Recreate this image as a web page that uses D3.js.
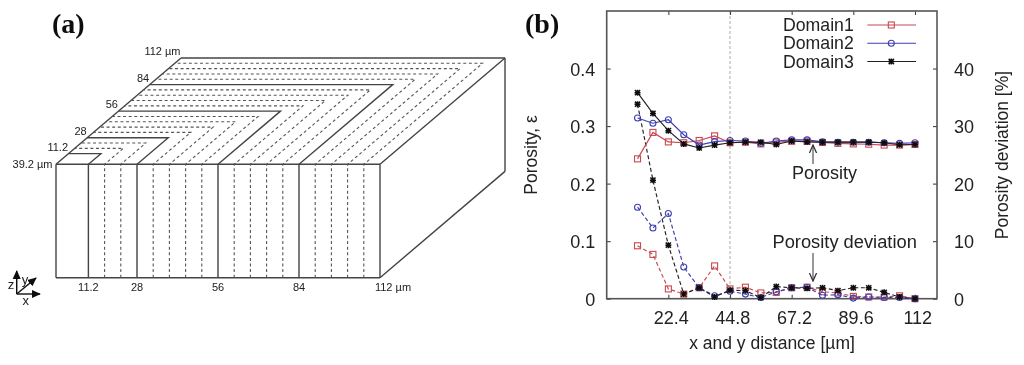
<!DOCTYPE html>
<html><head><meta charset="utf-8">
<script src="https://cdn.jsdelivr.net/npm/d3@7/dist/d3.min.js"></script>
<style>
html,body{margin:0;padding:0;background:#fff}
svg{display:block}
text{font-family:"Liberation Sans",Arial,sans-serif;fill:#222}
</style></head><body>
<svg id="c" width="1024" height="365"></svg>
<script>
// Panel (b) data
const distance = [11.2,16.8,22.4,28,33.6,39.2,44.8,50.4,56,61.6,67.2,72.8,78.4,84,89.6,95.2,100.8,106.4,112];
const porosity1 = [.243,.289,.2725,.271,.275,.283,.271,.272,.269,.272,.2735,.2735,.2715,.270,.269,.2685,.267,.267,.268];
const porosity2 = [.314,.305,.311,.285,.267,.273,.275,.274,.270,.274,.276,.276,.2725,.272,.272,.272,.271,.270,.271];
const porosity3 = [.358,.322,.292,.269,.262,.267,.271,.272,.272,.268,.274,.2725,.272,.272,.272,.272,.271,.2675,.268];
const deviation1 = [9.2,7.7,1.7,.8,1.9,5.7,1.7,2.0,1.0,1.1,1.9,2.0,1.2,1.0,.4,.3,.3,.5,0];
const deviation2 = [15.9,12.3,14.8,5.5,1.9,.5,1.3,.8,.2,1.2,1.9,2.0,.6,.7,.1,.3,.2,.2,0];
const deviation3 = [33.8,20.6,9.3,.8,1.9,.3,1.5,1.4,.2,2.1,1.9,1.8,1.9,1.4,1.9,1.9,1.1,.3,0];
const xTicks = [22.4,44.8,67.2,89.6,112];
const yTicks = [0,.1,.2,.3,.4];
const devTicks = [0,10,20,30,40];
const domainNames = ["Domain1","Domain2","Domain3"];
const domainColors = ["#c8494f","#3f3fb2","#222222"];
// Panel (a) data
const solidCuts = [11.2,28,56,84];
const dashedCuts = [16.8,22.4,33.6,39.2,44.8,50.4,61.6,67.2,72.8,78.4,89.6,95.2,100.8,106.4];
const frontLabels = ["11.2","28","56","84","112 µm"];
const frontLabelValues = [11.2,28,56,84,112];
const sideLabels = ["11.2","28","56","84","112 µm"];

const svg = d3.select("#c");
const defs = svg.append("defs");
defs.append("filter").attr("id","soft").attr("x","-5%").attr("y","-5%").attr("width","110%").attr("height","110%")
  .append("feGaussianBlur").attr("stdDeviation",0.45);
const arrow = defs.append("marker").attr("id","arr").attr("viewBox","0 0 10 10").attr("refX",9).attr("refY",5)
  .attr("markerWidth",9).attr("markerHeight",9).attr("markerUnits","userSpaceOnUse").attr("orient","auto");
arrow.append("path").attr("d","M0,1 L9,5 L0,9").attr("fill","none").attr("stroke","#333").attr("stroke-width",1.4);
const arrowK = defs.append("marker").attr("id","arrK").attr("viewBox","0 0 10 10").attr("refX",9).attr("refY",5)
  .attr("markerWidth",9).attr("markerHeight",9).attr("markerUnits","userSpaceOnUse").attr("orient","auto");
arrowK.append("path").attr("d","M0,0.5 L10,5 L0,9.5 Z").attr("fill","#111");

const root = svg.append("g").attr("filter","url(#soft)");

/* ---------- panel (a) ---------- */
const A = root.append("g");
const fx = d3.scaleLinear().domain([0,112]).range([56,380]);
const depthX = d3.scaleLinear().domain([0,112]).range([0,125]);
const depthY = d3.scaleLinear().domain([0,112]).range([164.3,58]);
const frontBottom = 277.7;
const P = (x,d)=>[fx(x)+depthX(d),depthY(d)];
const ln = d3.line();
const boxOutline = [[P(0,0),P(112,0)],[P(0,0),P(0,112)],[P(0,112),P(112,112)],
  [[fx(0),frontBottom],[fx(112),frontBottom]],[[fx(0),164.3],[fx(0),frontBottom]],[[fx(112),164.3],[fx(112),frontBottom]],
  [P(112,0),P(112,112)],[P(112,112),[P(112,112)[0],frontBottom-106.3]],[[fx(112),frontBottom],[P(112,112)[0],frontBottom-106.3]]];
A.append("g").selectAll("path").data(boxOutline).join("path").attr("d",ln)
  .attr("fill","none").attr("stroke","#444").attr("stroke-width",1.4);
const cutPath = v=>[[fx(v),frontBottom],[fx(v),164.3],P(v,v),P(0,v)];
A.append("g").selectAll("path").data(dashedCuts).join("path").attr("d",v=>ln(cutPath(v)))
  .attr("fill","none").attr("stroke","#555").attr("stroke-width",1.1).attr("stroke-dasharray","3 2.6");
A.append("g").selectAll("path").data(solidCuts).join("path").attr("d",v=>ln(cutPath(v)))
  .attr("fill","none").attr("stroke","#444").attr("stroke-width",1.4);
A.append("g").selectAll("text").data(frontLabelValues).join("text")
  .attr("x",(v)=>v===112?fx(v)+13:fx(v)).attr("y",290.5).attr("text-anchor","middle").attr("font-size",11)
  .text((v,i)=>frontLabels[i]);
A.append("g").selectAll("text").data(frontLabelValues).join("text")
  .attr("x",v=>P(0,v)[0]-0.5).attr("y",v=>P(0,v)[1]-3).attr("text-anchor",(v)=>"end").attr("font-size",11)
  .text((v,i)=>sideLabels[i]);
A.append("text").attr("x",52.5).attr("y",168).attr("text-anchor","end").attr("font-size",11).text("39.2 µm");
// coordinate triad
const tri = A.append("g");
[[16.7,294,16.7,271],[16.7,294,40,294],[16.7,294,36,278]].forEach(a=>{
  tri.append("line").attr("x1",a[0]).attr("y1",a[1]).attr("x2",a[2]).attr("y2",a[3])
    .attr("stroke","#111").attr("stroke-width",1.4).attr("marker-end","url(#arrK)");
});
[["z",11,289],["y",25,283.5],["x",25.7,304.5]].forEach(t=>{
  tri.append("text").attr("x",t[1]).attr("y",t[2]).attr("text-anchor","middle").attr("font-size",13).text(t[0]);
});
root.append("text").attr("x",52).attr("y",33).attr("font-size",28).attr("font-weight","bold")
  .style("font-family","'Liberation Serif',serif").style("fill","#111").text("(a)");
root.append("text").attr("x",525).attr("y",33).attr("font-size",28).attr("font-weight","bold")
  .style("font-family","'Liberation Serif',serif").style("fill","#111").text("(b)");

/* ---------- panel (b) ---------- */
const B = root.append("g");
const x = d3.scaleLinear().domain([0,120]).range([606.7,937]);
const y = d3.scaleLinear().domain([0,.5]).range([298.7,11]);
const y2 = d3.scaleLinear().domain([0,50]).range([298.7,11]);
const fs = 18;

B.append("line").attr("x1",x(44.8)).attr("x2",x(44.8)).attr("y1",y(.5)).attr("y2",y(0))
  .attr("stroke","#aaa").attr("stroke-width",1).attr("stroke-dasharray","3 2");

function styleAxis(g){
  g.select(".domain").remove();
  g.selectAll(".tick line").attr("stroke","#444").attr("stroke-width",1.1);
  g.selectAll(".tick text").attr("font-size",fs).style("font-family",'"Liberation Sans",Arial,sans-serif').attr("fill","#222");
}
B.append("g").attr("transform",`translate(0,${y(0)})`)
  .call(d3.axisBottom(x).tickValues(xTicks).tickSizeInner(-4).tickSizeOuter(0).tickPadding(0).tickFormat(d=>d))
  .call(styleAxis).call(g=>g.selectAll(".tick text").attr("x",2.3).attr("y",25).attr("dy",0));
B.append("g").attr("transform",`translate(0,${y(.5)})`)
  .call(d3.axisTop(x).tickValues(xTicks).tickSizeInner(-4).tickSizeOuter(0).tickFormat(""))
  .call(styleAxis);
B.append("g").attr("transform",`translate(${x(0)},0)`)
  .call(d3.axisLeft(y).tickValues(yTicks).tickSizeInner(-4).tickSizeOuter(0).tickFormat(d=>d===0?"0":d3.format(".1f")(d)))
  .call(styleAxis).call(g=>g.selectAll(".tick text").attr("x",-11.5).attr("y",0.8));
B.append("g").attr("transform",`translate(${x(120)},0)`)
  .call(d3.axisRight(y2).tickValues(devTicks).tickSizeInner(-4).tickSizeOuter(0))
  .call(styleAxis).call(g=>g.selectAll(".tick text").attr("x",17).attr("y",0.8));
B.append("rect").attr("x",x(0)).attr("y",y(.5)).attr("width",x(120)-x(0)).attr("height",y(0)-y(.5))
  .attr("fill","none").attr("stroke","#555").attr("stroke-width",1.6);

const porosity = [porosity1,porosity2,porosity3];
const deviation = [deviation1,deviation2,deviation3];
const star = g=>{
  g.append("path").attr("d","M-2.6,-2.6L2.6,2.6M-2.6,2.6L2.6,-2.6M0,-3V3M-3,0H3").attr("stroke","#111").attr("stroke-width",1.5).attr("fill","none");
};
function mark(sel,i){
  if(i===0) sel.append("rect").attr("x",-3).attr("y",-3).attr("width",6).attr("height",6).attr("fill","none").attr("stroke",domainColors[0]).attr("stroke-width",1.1);
  else if(i===1) sel.append("circle").attr("r",3).attr("fill","none").attr("stroke",domainColors[1]).attr("stroke-width",1.1);
  else star(sel);
}
function series(vals,scale,color,dash,i){
  const g = B.append("g");
  g.append("path").datum(vals)
    .attr("d",d3.line().x((d,k)=>x(distance[k])).y(d=>scale(d)))
    .attr("fill","none").attr("stroke",color).attr("stroke-width",1.15).attr("stroke-dasharray",dash);
  g.selectAll("g").data(vals).join("g")
    .attr("transform",(d,k)=>`translate(${x(distance[k])},${scale(d)})`)
    .each(function(){mark(d3.select(this),i);});
}
[0,1,2].forEach(i=>series(deviation[i],y2,domainColors[i],"4 2.5",i));
[0,1,2].forEach(i=>series(porosity[i],y,domainColors[i],null,i));

// legend
const legY = d3.scalePoint().domain(domainNames).range([25,61.5]);
const leg = B.append("g").selectAll("g").data(domainNames).join("g").attr("transform",d=>`translate(0,${legY(d)})`);
leg.append("text").attr("x",783).attr("y",6.2).attr("font-size",17.7).text(d=>d);
leg.append("line").attr("x1",867.3).attr("x2",916).attr("stroke",(d,i)=>domainColors[i]).attr("stroke-width",1.15);
leg.append("g").attr("transform","translate(891.3,0)").each(function(d,i){mark(d3.select(this),i);});

// annotations
B.append("text").attr("x",792).attr("y",179).attr("font-size",18).text("Porosity");
B.append("line").attr("x1",813).attr("x2",813).attr("y1",164).attr("y2",145).attr("stroke","#333").attr("stroke-width",1).attr("marker-end","url(#arr)");
B.append("text").attr("x",772.5).attr("y",248).attr("font-size",18.3).text("Porosity deviation");
B.append("line").attr("x1",813).attr("x2",813).attr("y1",253).attr("y2",281).attr("stroke","#333").attr("stroke-width",1).attr("marker-end","url(#arr)");

// titles
B.append("text").attr("x",772).attr("y",349).attr("text-anchor","middle").attr("font-size",17.5).text("x and y distance [µm]");
B.append("text").attr("transform","translate(537,155) rotate(-90)").attr("text-anchor","middle").attr("font-size",17.5).text("Porosity, ε");
B.append("text").attr("transform","translate(1008,155) rotate(-90)").attr("text-anchor","middle").attr("font-size",17.5).text("Porosity deviation [%]");
</script>
</body></html>
